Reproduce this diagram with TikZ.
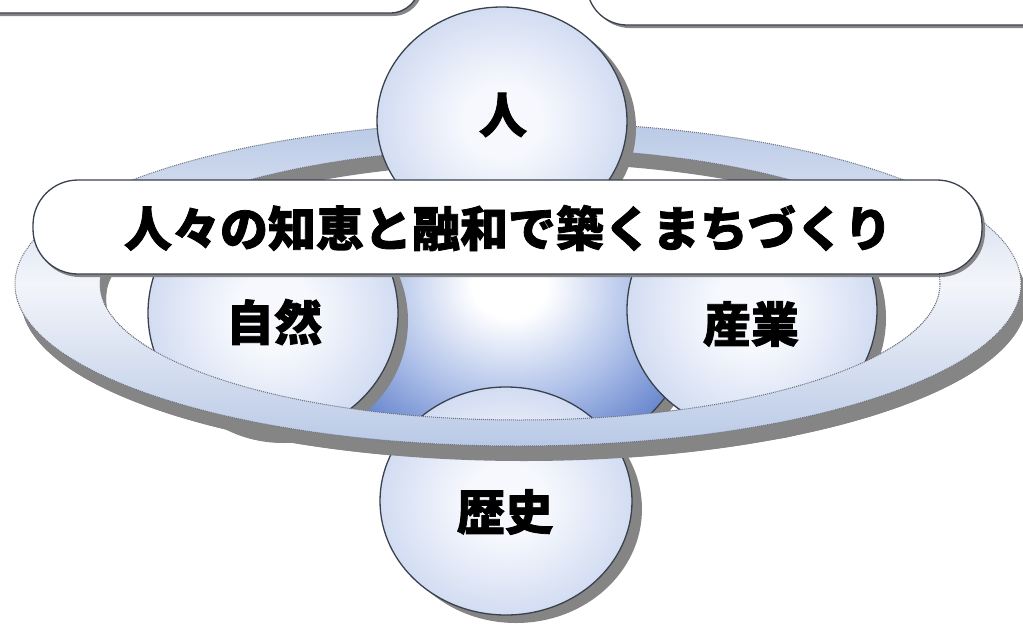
\documentclass[tikz,border=0pt]{standalone}
\usepackage{fontspec}
\newfontfamily\jp{Noto Sans CJK JP}[BoldFeatures={FakeBold=1.6}]
\definecolor{shad}{HTML}{858585}
\definecolor{edge}{HTML}{3A414E}
\definecolor{ballin}{HTML}{F6F8FD}
\definecolor{ballout}{HTML}{9EB4E2}
\definecolor{cmid}{HTML}{AFC1E9}
\definecolor{cdark}{HTML}{4A6EC2}
\definecolor{ringb}{HTML}{B9C9E6}
\definecolor{ringw}{HTML}{F3F5FA}
\definecolor{ringline}{HTML}{6E7380}
\pgfdeclareradialshading{ball}{\pgfpoint{0bp}{0bp}}{color(0bp)=(ballin); color(8bp)=(ballin); color(50bp)=(ballout); color(72bp)=(ballout)}
\pgfdeclareradialshading{cball}{\pgfpoint{0bp}{4bp}}{color(0bp)=(white); color(5bp)=(white); color(17bp)=(cmid); color(31bp)=(cdark); color(80bp)=(cdark)}
\tikzset{
  shadowfill/.style={fill=shad},
  ballstyle/.style={shading=ball, draw=edge, line width=1.3pt},
  ringstyle/.style={even odd rule, top color=ringb, bottom color=ringb, middle color=ringw},
  ringedge/.style={draw=ringline, densely dotted, line width=1pt},
  boxstyle/.style={fill=white, draw=edge, line width=1.3pt},
  lbl/.style={font=\jp\bfseries\fontsize{48}{48}\selectfont, text=black, inner sep=0pt}
}
\def\outerring{(518,284) ellipse [x radius=503pt, y radius=162pt]}
\def\innerring{(520,284) ellipse [x radius=420pt, y radius=136pt]}
\begin{document}
\begin{tikzpicture}[x=1pt,y=-1pt]
\useasboundingbox (0,0) rectangle (1023,627);
\clip (0,0) rectangle (1023,627);
% top boxes
\fill[shadowfill, rounded corners=30pt] (-40,-100) rectangle (423,16);
\draw[boxstyle, rounded corners=30pt] (-40,-100) rectangle (420,13);
\fill[shadowfill, rounded corners=40pt] (590,-100) rectangle (1100,28);
\draw[boxstyle, rounded corners=40pt] (587,-100) rectangle (1100,25);
% ring (back)
\fill[shadowfill, even odd rule, shift={(6,15)}] \outerring \innerring;
\path[ringstyle] \outerring \innerring;
\path[ringedge] \outerring \innerring;
% center sphere
\fill[shadowfill] (519,318) ellipse [x radius=185pt, y radius=160pt];
\path[shading=cball, draw=edge, line width=1.3pt] (510,310) ellipse [x radius=185pt, y radius=160pt];
% top sphere
\fill[shadowfill] (511,128) ellipse [x radius=125pt, y radius=114pt];
\path[ballstyle] (502,121) ellipse [x radius=125pt, y radius=114pt];
\node[lbl] (hito) at (503,115) {人};
% left and right spheres
\fill[shadowfill] (283,321) ellipse [x radius=125pt, y radius=122pt];
\path[ballstyle] (273,313) ellipse [x radius=125pt, y radius=122pt];
\node[lbl] (shizen) at (274,322) {自然};
\fill[shadowfill] (761,318) ellipse [x radius=125pt, y radius=122pt];
\path[ballstyle] (752,310) ellipse [x radius=125pt, y radius=122pt];
\node[lbl] (sangyo) at (751,324) {産業};
% bottom sphere
\fill[shadowfill] (516,509) ellipse [x radius=126pt, y radius=114pt];
\path[ballstyle] (506,501) ellipse [x radius=126pt, y radius=114pt];
\node[lbl] (rekishi) at (505,512) {歴史};
% ring (front)
\begin{scope}
\clip (0,290) rectangle (1023,627);
\fill[shadowfill, even odd rule, shift={(6,15)}] \outerring \innerring;
\path[ringstyle] \outerring \innerring;
\path[ringedge] \outerring \innerring;
\end{scope}
% banner
\fill[shadowfill, rounded corners=45pt] (35,183) rectangle (985,277);
\draw[boxstyle, rounded corners=45pt] (33,180) rectangle (982,274);
\node[lbl] (title) at (508,228) {人々の知恵と融和で築くまちづくり};
\end{tikzpicture}
\end{document}
